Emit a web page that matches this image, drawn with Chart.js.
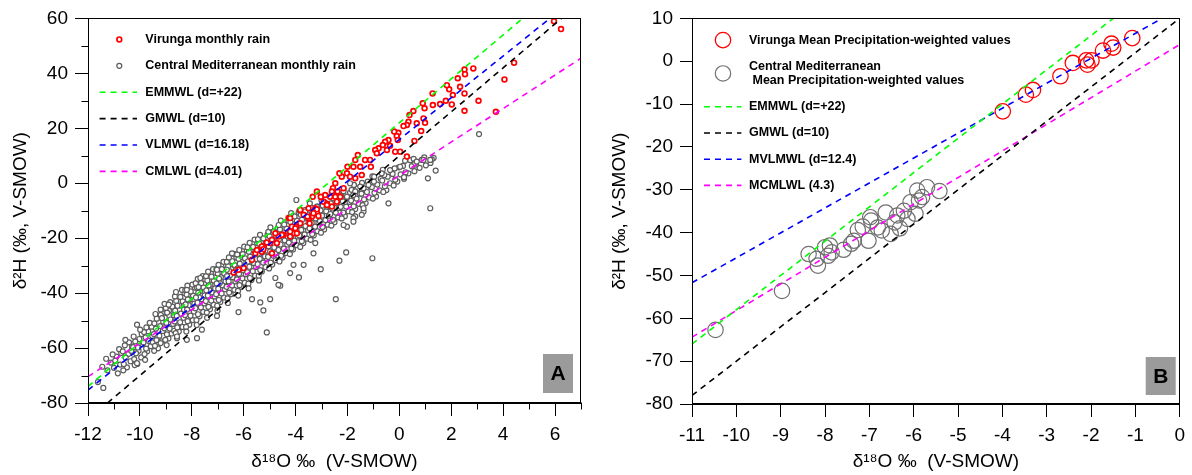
<!DOCTYPE html>
<html>
<head>
<meta charset="utf-8">
<script src="https://cdn.jsdelivr.net/npm/chart.js@4.4.1/dist/chart.umd.min.js"></script>
<style>
  body { margin: 0; background: #fff; width: 1192px; height: 475px; overflow: hidden; position: relative; }
  .panel { position: absolute; top: 0; width: 596px; height: 475px; }
  #wrapA { left: 0; }
  #wrapB { left: 596px; }
</style>
</head>
<body>
<div class="panel" id="wrapA"><canvas id="chartA" width="596" height="475"></canvas></div>
<div class="panel" id="wrapB"><canvas id="chartB" width="596" height="475"></canvas></div>
<script>
// ---- panel A data: monthly rain, [d18O, d2H] ----
const virungaMonthly = [
  [5.96,59.0],[6.23,56.1],[4.42,43.9],[2.85,41.8],[2.51,41.4],[2.53,39.7],[2.25,38.2],[2.34,35.1],[1.92,34.2],[1.83,35.7],
  [2.06,32.1],[2.51,32.7],[4.05,37.8],[3.05,30.0],[2.51,26.4],[3.72,26.0],[1.28,32.7],[0.90,29.1],[0.97,27.3],[1.29,28.5],
  [1.57,28.8],[1.79,30.0],[2.02,28.7],[0.54,26.3],[0.39,24.8],[0.35,22.4],[0.29,21.2],[0.16,20.8],[0.93,23.6],[0.99,22.0],
  [0.67,21.8],[0.84,19.0],[-0.04,18.4],[-0.20,18.8],[-0.10,17.2],[-0.42,15.7],[-0.55,15.1],[-0.64,13.9],[-0.36,13.6],[-0.06,15.7],
  [-0.16,11.5],[0.03,11.5],[-0.80,12.7],[-0.93,12.1],[-0.87,10.9],[-0.48,12.1],[0.29,9.7],[0.58,15.4],[-1.13,8.5],[-1.10,6.0],
  [-1.32,8.5],[-1.60,10.3],[-1.70,8.5],[-1.77,6.0],[-1.51,6.0],[-2.00,6.0],[-2.02,3.6],[-1.90,2.4],[-1.45,3.0],[-1.70,1.8],
  [-2.22,2.4],[-2.31,3.6],[-2.47,0.0],[-2.56,-1.8],[-2.60,-3.0],[-2.38,-3.0],[-2.15,-1.8],[-2.28,-4.9],[-2.47,-4.9],[-2.67,-4.9],
  [-2.86,-4.3],[-3.03,-4.9],[-2.92,-6.7],[-2.79,-7.5],[-2.60,-8.5],[-2.41,-6.7],[-3.18,-3.0],[-3.34,-4.9],[-3.50,-9.1],[-3.24,-9.1],
  [-3.18,-10.9],[-3.37,-12.1],[-3.50,-12.7],[-3.46,-14.6],[-3.69,-11.5],[-3.82,-9.7],[-3.98,-15.8],[-4.14,-15.8],[-4.08,-18.2],[-4.27,-12.7],
  [-4.46,-18.8],[-4.66,-19.4],[-4.78,-18.2],[-4.98,-21.8],[-5.11,-21.6],[-5.23,-23.0],[-4.91,-25.5],[-5.30,-24.9],[-5.55,-25.5],[-3.18,-9.5],
  [-3.31,-10.9],[-3.12,-11.9],[-3.54,-12.1],[-4.21,-12.7],[-3.82,-14.6],[-4.01,-16.4],[-3.95,-18.2],[-4.21,-19.4],[-4.53,-18.8],[-4.91,-20.6],
  [-4.72,-21.8],[-5.30,-23.0],[-5.24,-24.0],[-5.49,-24.3],[-5.68,-27.9],[-6.00,-30.9],[-6.20,-31.5],[-6.39,-32.5],[-4.21,-17.6],[-2.79,-7.9]
];

const medMonthly = [
  [-11.62,-72.4],[-11.45,-66.8],[-11.41,-74.5],
  [-11.25,-68.1],[-11.12,-65.3],[-11.30,-63.9],
  [-10.85,-69.2],[-10.76,-66.0],[-10.90,-63.1],[-10.72,-61.8],[-10.80,-60.4],
  [-10.50,-67.0],[-10.36,-64.8],[-10.45,-62.2],[-10.30,-59.5],[-10.42,-57.9],[-10.33,-61.0],
  [-10.10,-65.8],[-9.95,-63.4],[-10.05,-61.0],[-9.90,-58.6],[-10.02,-56.7],[-9.93,-54.9],[-10.08,-59.8],
  [-9.72,-61.2],[-9.58,-59.3],[-9.65,-57.4],[-9.52,-55.6],[-9.68,-53.9],[-9.55,-52.2],[-9.62,-50.8],[-9.50,-57.9],
  [-9.30,-60.1],[-9.18,-57.6],[-9.25,-55.5],[-9.12,-53.8],[-9.22,-52.0],[-9.10,-50.4],[-9.27,-48.9],[-9.15,-47.2],[-9.20,-46.0],
  [-8.90,-56.5],[-8.78,-54.7],[-8.85,-52.9],[-8.72,-51.2],[-8.82,-49.6],[-8.70,-48.0],[-8.88,-46.4],[-8.75,-44.9],[-8.83,-43.3],[-8.68,-53.7],
  [-8.50,-54.0],[-8.36,-52.3],[-8.45,-50.6],[-8.32,-49.0],[-8.42,-47.5],[-8.30,-46.0],[-8.48,-44.5],[-8.35,-43.0],[-8.44,-41.4],[-8.28,-40.0],[-8.38,-38.8],
  [-8.10,-51.5],[-7.96,-49.8],[-8.05,-48.2],[-7.92,-46.7],[-8.02,-45.2],[-7.90,-43.8],[-8.08,-42.3],[-7.95,-40.9],[-8.04,-39.4],[-7.88,-38.0],[-7.98,-36.9],[-8.12,-44.4],
  [-7.70,-48.4],[-7.56,-46.8],[-7.65,-45.2],[-7.52,-43.7],[-7.62,-42.2],[-7.50,-40.8],[-7.68,-39.3],[-7.55,-37.9],[-7.64,-36.4],[-7.48,-35.0],[-7.58,-33.8],[-7.72,-41.5],
  [-7.30,-45.9],[-7.16,-44.2],[-7.25,-42.7],[-7.12,-41.2],[-7.22,-39.7],[-7.10,-38.3],[-7.28,-36.9],[-7.15,-35.4],[-7.24,-34.0],[-7.08,-32.6],[-7.18,-31.3],[-7.32,-38.9],
  [-6.90,-43.2],[-6.76,-41.6],[-6.85,-40.1],[-6.72,-38.6],[-6.82,-37.1],[-6.70,-35.7],[-6.88,-34.2],[-6.75,-32.8],[-6.84,-31.3],[-6.68,-29.9],[-6.78,-28.6],[-6.92,-36.3],
  [-6.50,-40.4],[-6.36,-38.8],[-6.45,-37.2],[-6.32,-35.7],[-6.42,-34.2],[-6.30,-32.8],[-6.48,-31.3],[-6.35,-29.8],[-6.44,-28.4],[-6.28,-27.0],[-6.38,-25.7],[-6.52,-33.4],
  [-6.10,-37.8],[-5.96,-36.2],[-6.05,-34.6],[-5.92,-33.1],[-6.02,-31.6],[-5.90,-30.2],[-6.08,-28.7],[-5.95,-27.3],[-6.04,-25.8],[-5.88,-24.4],[-5.98,-23.1],[-6.12,-30.9],
  [-5.70,-35.2],[-5.56,-33.6],[-5.65,-32.0],[-5.52,-30.5],[-5.62,-29.0],[-5.50,-27.6],[-5.68,-26.1],[-5.55,-24.7],[-5.64,-23.2],[-5.48,-21.8],[-5.58,-20.5],[-5.72,-28.2],
  [-5.30,-32.1],[-5.16,-30.5],[-5.25,-28.9],[-5.12,-27.4],[-5.22,-25.9],[-5.10,-24.5],[-5.28,-23.0],[-5.15,-21.6],[-5.24,-20.1],[-5.08,-18.7],[-5.18,-26.6],
  [-4.90,-29.6],[-4.76,-28.0],[-4.85,-26.4],[-4.72,-24.9],[-4.82,-23.4],[-4.70,-22.0],[-4.88,-20.5],[-4.75,-19.1],[-4.84,-17.6],[-4.68,-16.2],[-4.78,-25.6],
  [-4.50,-27.0],[-4.36,-25.4],[-4.45,-23.8],[-4.32,-22.3],[-4.42,-20.8],[-4.30,-19.4],[-4.48,-17.9],[-4.35,-16.5],[-4.44,-15.0],[-4.28,-13.6],
  [-4.10,-24.1],[-3.96,-22.5],[-4.05,-20.9],[-3.92,-19.4],[-4.02,-17.9],[-3.90,-16.5],[-4.08,-15.0],[-3.95,-13.6],[-4.04,-12.1],[-3.88,-10.7],
  [-3.70,-21.8],[-3.56,-20.2],[-3.65,-18.6],[-3.52,-17.1],[-3.62,-15.6],[-3.50,-14.2],[-3.68,-12.7],[-3.55,-11.3],[-3.64,-9.8],
  [-3.30,-19.0],[-3.16,-17.4],[-3.25,-15.8],[-3.12,-14.3],[-3.22,-12.8],[-3.10,-11.4],[-3.28,-9.9],[-3.15,-8.5],
  [-2.90,-16.8],[-2.76,-15.1],[-2.85,-13.4],[-2.72,-11.8],[-2.82,-10.2],[-2.70,-8.6],[-2.88,-7.0],
  [-2.50,-14.2],[-2.36,-12.4],[-2.45,-10.7],[-2.32,-9.0],[-2.42,-7.3],[-2.30,-5.6],
  [-2.10,-12.0],[-1.96,-10.2],[-2.05,-8.5],[-1.92,-6.8],[-2.02,-5.1],[-1.90,-3.4],
  [-1.70,-9.4],[-1.56,-7.5],[-1.65,-5.6],[-1.52,-3.8],[-1.62,-2.0],
  [-1.30,-7.2],[-1.16,-5.2],[-1.25,-3.2],[-1.12,-1.3],[-1.22,0.6],
  [-0.90,-4.8],[-0.76,-2.6],[-0.85,-0.5],[-0.72,1.6],
  [-0.50,-2.5],[-0.36,0.0],[-0.45,2.4],[-0.32,4.6],
  [-0.08,0.6],[0.05,3.2],[-0.02,5.8],
  [0.35,3.6],[0.48,6.2],[0.42,8.4],
  [0.78,5.6],[0.86,8.5],[1.20,7.4],[1.32,9.2],
  // in-between points of the dense band
  [-11.00,-67.2],[-10.95,-64.6],[-11.05,-62.3],
  [-10.62,-65.8],[-10.55,-63.5],[-10.66,-61.2],[-10.58,-59.0],[-10.64,-68.1],
  [-10.22,-64.0],[-10.15,-61.9],[-10.26,-59.7],[-10.18,-57.6],[-10.24,-55.8],[-10.20,-66.2],
  [-9.82,-62.2],[-9.76,-60.2],[-9.86,-58.0],[-9.78,-56.1],[-9.84,-54.2],[-9.75,-52.5],[-9.80,-64.3],
  [-9.42,-59.2],[-9.36,-57.1],[-9.46,-54.9],[-9.38,-52.9],[-9.44,-51.0],[-9.35,-49.3],[-9.40,-47.6],[-9.45,-61.0],
  [-9.02,-57.0],[-8.96,-55.0],[-9.06,-52.8],[-8.98,-50.8],[-9.04,-48.9],[-8.95,-47.1],[-9.00,-45.4],[-9.05,-43.9],[-8.97,-58.9],
  [-8.62,-54.6],[-8.56,-52.5],[-8.66,-50.3],[-8.58,-48.3],[-8.64,-46.4],[-8.55,-44.6],[-8.60,-42.8],[-8.65,-41.2],[-8.57,-56.4],[-8.61,-39.6],
  [-8.22,-52.3],[-8.16,-50.2],[-8.26,-48.0],[-8.18,-46.0],[-8.24,-44.1],[-8.15,-42.3],[-8.20,-40.5],[-8.25,-38.9],[-8.17,-37.3],[-8.21,-54.0],
  [-7.82,-49.8],[-7.76,-47.7],[-7.86,-45.5],[-7.78,-43.5],[-7.84,-41.6],[-7.75,-39.8],[-7.80,-38.0],[-7.85,-36.4],[-7.77,-34.8],[-7.81,-51.6],
  [-7.42,-47.1],[-7.36,-45.0],[-7.46,-42.9],[-7.38,-40.9],[-7.44,-39.0],[-7.35,-37.2],[-7.40,-35.4],[-7.45,-33.8],[-7.37,-32.2],[-7.41,-49.0],
  [-7.02,-44.6],[-6.96,-42.5],[-7.06,-40.4],[-6.98,-38.4],[-7.04,-36.5],[-6.95,-34.7],[-7.00,-32.9],[-7.05,-31.3],[-6.97,-29.7],[-7.01,-46.4],
  [-6.62,-41.9],[-6.56,-39.8],[-6.66,-37.7],[-6.58,-35.7],[-6.64,-33.8],[-6.55,-32.0],[-6.60,-30.2],[-6.65,-28.6],[-6.57,-27.0],[-6.61,-43.6],
  [-6.22,-39.2],[-6.16,-37.1],[-6.26,-35.0],[-6.18,-33.0],[-6.24,-31.1],[-6.15,-29.3],[-6.20,-27.5],[-6.25,-25.9],[-6.17,-24.3],[-6.21,-40.9],
  [-5.82,-36.6],[-5.76,-34.5],[-5.86,-32.4],[-5.78,-30.4],[-5.84,-28.5],[-5.75,-26.7],[-5.80,-24.9],[-5.85,-23.3],[-5.77,-21.7],[-5.81,-38.3],
  [-5.42,-33.7],[-5.36,-31.6],[-5.46,-29.5],[-5.38,-27.5],[-5.44,-25.6],[-5.35,-23.8],[-5.40,-22.0],[-5.45,-20.4],[-5.37,-18.8],[-5.41,-35.4],
  [-5.02,-31.0],[-4.96,-28.9],[-5.06,-26.8],[-4.98,-24.8],[-5.04,-22.9],[-4.95,-21.1],[-5.00,-19.3],[-5.05,-17.7],[-4.97,-16.1],
  [-4.62,-28.5],[-4.56,-26.4],[-4.66,-24.3],[-4.58,-22.3],[-4.64,-20.4],[-4.55,-18.6],[-4.60,-16.8],[-4.65,-15.2],[-4.57,-13.6],
  [-4.22,-25.8],[-4.16,-23.7],[-4.26,-21.6],[-4.18,-19.6],[-4.24,-17.7],[-4.15,-15.9],[-4.20,-14.1],[-4.25,-12.5],[-4.17,-10.9],
  [-3.82,-23.2],[-3.76,-21.1],[-3.86,-19.0],[-3.78,-17.0],[-3.84,-15.1],[-3.75,-13.3],[-3.80,-11.5],[-3.85,-9.9],
  [-3.42,-20.6],[-3.36,-18.5],[-3.46,-16.4],[-3.38,-14.4],[-3.44,-12.5],[-3.35,-10.7],[-3.40,-8.9],[-3.45,-7.3],
  [-3.02,-18.0],[-2.96,-15.9],[-3.06,-13.8],[-2.98,-11.8],[-3.04,-9.9],[-2.95,-8.1],[-3.00,-6.3],
  [-2.62,-15.4],[-2.56,-13.3],[-2.66,-11.2],[-2.58,-9.2],[-2.64,-7.3],[-2.55,-5.5],
  [-2.22,-12.8],[-2.16,-10.7],[-2.26,-8.6],[-2.18,-6.6],[-2.24,-4.7],[-2.15,-2.9],
  [-1.82,-10.5],[-1.76,-8.4],[-1.86,-6.3],[-1.78,-4.3],[-1.84,-2.4],[-1.75,-0.6],
  [-1.42,-8.0],[-1.36,-5.9],[-1.46,-3.8],[-1.38,-1.8],[-1.44,0.1],
  [-1.02,-5.6],[-0.96,-3.5],[-1.06,-1.4],[-0.98,0.6],[-1.04,2.5],
  [-0.62,-3.2],[-0.56,-1.1],[-0.66,1.0],[-0.58,3.0],[-0.64,4.9],
  [-0.22,-0.8],[-0.16,1.3],[-0.26,3.4],[-0.18,5.4],
  [0.18,1.6],[0.24,4.0],[0.14,6.3],[0.22,8.2],
  [0.58,4.4],[0.64,6.8],[0.55,8.9],[1.02,6.5],[0.96,9.4],
  // scattered points off the main band
  [1.19,-9.1],[1.10,1.8],[1.40,4.6],[1.25,8.7],[0.61,7.3],[0.18,2.2],[-0.42,-7.3],[-1.38,-10.3],[-1.70,-12.1],[-2.02,-15.8],
  [-2.05,-25.2],[-1.04,-27.3],[3.07,17.9],[-2.45,-42.2],[-3.03,-31.3],[-2.31,-28.2],[-5.11,-54.3],[-5.24,-46.3],[-6.20,-46.9],[-5.68,-42.2],
  [-4.98,-42.2],[-5.36,-43.4],[-4.59,-37.3],[-3.87,-34.3],[-4.78,-34.5],[-7.03,-48.3],[-7.80,-56.4],[-7.61,-53.3],[-8.19,-57.0],[-8.57,-55.8],
  [-9.20,-58.2],[-10.11,-65.5],[-2.15,-15.2],[-1.77,-12.7],[-1.45,-11.5],[-1.38,-9.1],[-1.77,-14.0],[-3.24,-21.8],[-3.31,-25.5],[-4.08,-29.7],
  [-3.69,-29.7],[-4.66,-37.0],[-4.21,-32.7],[-6.65,-31.5],[-6.45,-25.5],[-7.03,-31.5],[-7.67,-34.5],[-8.19,-38.8],[-7.74,-37.8],[-8.89,-44.2],
  [-9.20,-47.9],[-9.15,-49.1],[-9.99,-53.3],[-10.11,-51.5],[-10.56,-57.0],[-3.97,-6.1],[-3.63,-10.3],[-3.18,-8.5],[-2.80,-8.5],[-2.41,-4.3],
  [-2.02,-4.9],[-1.70,-3.0],[-1.90,0.0],[-1.51,-1.2],[-1.19,-0.6],[-0.97,2.4],[-0.68,3.6],[-0.36,4.8],[0.03,6.0],[0.67,7.9],
  [0.93,8.5],[1.19,8.5]
];

// meteoric water lines for panel A, end points
const emmwlA = [[-12,-74],[4.75,60]];
const gmwlA = [[-11.25,-80],[6.25,60]];
const vlmwlA = [[-12,-75.3],[5.8,60]];
const cmlwlA = [[-12,-70.4],[7,45.5]];

// ---- panel B data: mean precipitation-weighted values ----
const virungaMean = [
  [-3.99,-11.7],[-3.47,-7.8],[-3.31,-6.7],[-2.69,-3.5],[-2.41,-0.4],[-2.11,0.2],
  [-2.08,-0.8],[-1.99,0.2],[-1.73,2.5],[-1.54,4.1],[-1.50,3.2],[-1.07,5.4]
];
const medMean = [
  [-10.47,-62.7],[-8.97,-53.6],[-8.37,-45.0],[-8.16,-47.7],[-8.19,-46.1],[-8.00,-43.4],[-7.89,-43.0],[-7.93,-45.4],
  [-7.85,-44.6],[-7.58,-44.0],[-7.41,-42.6],[-7.26,-39.4],[-7.35,-41.9],[-7.15,-38.6],[-7.02,-41.9],[-6.96,-37.2],
  [-6.98,-36.4],[-6.81,-38.8],[-6.72,-39.5],[-6.63,-35.3],[-6.52,-40.3],[-6.43,-37.6],[-6.31,-39.0],[-6.37,-36.0],
  [-6.22,-34.9],[-6.14,-36.8],[-6.07,-32.9],[-5.96,-35.6],[-5.88,-32.5],[-5.92,-30.2],[-5.70,-29.4],[-5.42,-30.3],[-5.81,-31.7]
];
const emmwlB = [[-11,-66],[-1.5,10]];
const gmwlB = [[-11,-78],[0,10]];
const mvlmwlB = [[-11,-51.7],[-0.4,10]];
const mcmlwlB = [[-11,-64.4],[0,3.9]];

// ---- axes ----
const xTicksA = [-12, 7, 2];      // min, max, step
const yTicksA = [-80, 60, 20];
const xMinorA = [-11, -9, -7, -5, -3, -1, 1, 3, 5, 7];
const yMinorA = [-70, -50, -30, -10, 10, 30, 50];
const xTicksB = [-11, 0, 1];
const yTicksB = [-80, 10, 10];

const FONT = '"Liberation Sans", Arial, sans-serif';
Chart.defaults.font.family = FONT;
Chart.defaults.color = '#000';

const toXY = arr => arr.map(p => ({ x: p[0], y: p[1] }));

function pointSet(label, data, color, fill, radius, width, order) {
  return {
    label, data: toXY(data), showLine: false, order,
    borderColor: color, backgroundColor: fill,
    pointBackgroundColor: fill,
    pointRadius: radius, pointBorderWidth: width, pointHoverRadius: radius
  };
}
function lineSet(label, data, color) {
  return {
    label, data: toXY(data), showLine: true, order: 0,
    borderColor: color, borderWidth: 1.6, borderDash: [6, 5],
    pointRadius: 0, fill: false
  };
}

// outer frame (top/right) + minor ticks
const framePlugin = {
  id: 'frame',
  afterDraw(chart, args, opts) {
    const { ctx, chartArea: a } = chart;
    ctx.save();
    ctx.strokeStyle = '#000';
    ctx.lineWidth = 1;
    const L = Math.round(a.left) + 0.5, R = Math.round(a.right) - 0.5;
    const T = Math.round(a.top) + 0.5, B = Math.round(a.bottom) - 0.5;
    ctx.strokeRect(L, T, R - L, B - T);
    const sx = chart.scales.x, sy = chart.scales.y;
    ctx.beginPath();
    (opts.minorX || []).forEach(v => {
      const px = Math.round(sx.getPixelForValue(v)) + 0.5;
      ctx.moveTo(px, B); ctx.lineTo(px, B + opts.len);
    });
    (opts.minorY || []).forEach(v => {
      const py = Math.round(sy.getPixelForValue(v)) + 0.5;
      ctx.moveTo(L, py); ctx.lineTo(L - opts.len, py);
    });
    ctx.stroke();
    ctx.restore();
  }
};

// legend inside plot area
const insideLegend = {
  id: 'insideLegend',
  afterDraw(chart, args, o) {
    const { ctx, chartArea: a } = chart;
    ctx.save();
    ctx.font = 'bold 12.5px ' + FONT;
    ctx.textBaseline = 'middle';
    let y = a.top + o.top;
    chart.data.datasets.forEach(ds => {
      const lines = ds.label.split('\n');
      const cy = y + (lines.length - 1) * o.lineH / 2;
      ctx.strokeStyle = ds.borderColor;
      if (ds.showLine) {
        ctx.lineWidth = ds.borderWidth;
        ctx.setLineDash(ds.borderDash);
        ctx.beginPath();
        ctx.moveTo(a.left + o.lineStart, cy);
        ctx.lineTo(a.left + o.lineEnd, cy);
        ctx.stroke();
        ctx.setLineDash([]);
      } else {
        ctx.lineWidth = ds.pointBorderWidth;
        ctx.beginPath();
        ctx.arc(a.left + o.markX, cy, ds.pointRadius, 0, Math.PI * 2);
        ctx.stroke();
      }
      ctx.fillStyle = '#000';
      lines.forEach((t, i) => ctx.fillText(t, a.left + o.textX, y + i * o.lineH));
      y += o.rowH + (lines.length - 1) * o.lineH;
    });
    ctx.restore();
  }
};

// grey panel letter box
const panelTag = {
  id: 'panelTag',
  afterDraw(chart, args, o) {
    const { ctx, chartArea: a } = chart;
    const x = a.right - o.right - o.w, y = a.bottom - o.bottom - o.h;
    ctx.save();
    ctx.fillStyle = '#9b9b9b';
    ctx.fillRect(x, y, o.w, o.h);
    ctx.fillStyle = '#000';
    ctx.font = 'bold 21px ' + FONT;
    ctx.textAlign = 'center';
    ctx.textBaseline = 'middle';
    ctx.fillText(o.text, x + o.w / 2, y + o.h / 2 + 1);
    ctx.restore();
  }
};

function axis(t, title, size, tickLen, titlePad) {
  return {
    type: 'linear', min: t[0], max: t[1],
    ticks: { stepSize: t[2], includeBounds: false, font: { size: 19 }, color: '#000', padding: 7 },
    grid: { drawOnChartArea: false, drawTicks: true, tickLength: tickLen, color: '#000', lineWidth: 1 },
    border: { display: true, color: '#000', width: 1 },
    title: { display: true, text: title, font: { size: 19 }, color: '#000', padding: titlePad },
    afterFit(s) { if (s.isHorizontal()) s.height = size; else s.width = size; }
  };
}

const xTitle = 'δ\u00b9\u2078O \u2030  (V-SMOW)';
const yTitle = 'δ\u00b2H (\u2030, V-SMOW)';

new Chart(document.getElementById('chartA'), {
  type: 'scatter',
  data: {
    datasets: [
      pointSet('Virunga monthly rain', virungaMonthly, '#ff0000', '#ffffff', 2.4, 1.7, 1),
      pointSet('Central Mediterranean monthly rain', medMonthly, '#5c5c5c', '#ffffff', 2.5, 1.2, 2),
      lineSet('EMMWL (d=+22)', emmwlA, '#00ff00'),
      lineSet('GMWL (d=10)', gmwlA, '#000000'),
      lineSet('VLMWL (d=16.18)', vlmwlA, '#0000ff'),
      lineSet('CMLWL (d=4.01)', cmlwlA, '#ff00ff')
    ]
  },
  options: {
    responsive: false, animation: false, events: [],
    layout: { padding: { left: 0, right: 15, top: 18, bottom: 0 } },
    scales: {
      x: axis(xTicksA, xTitle, 72, 13, { top: 0, bottom: 2 }),
      y: axis(yTicksA, yTitle, 88, 13, { top: 9, bottom: 0 })
    },
    plugins: {
      legend: { display: false }, tooltip: { enabled: false },
      frame: { minorX: xMinorA, minorY: yMinorA, len: 7 },
      insideLegend: { top: 21, rowH: 26.4, lineH: 14.3, markX: 31.3, lineStart: 11.6, lineEnd: 49, textX: 57.3 },
      panelTag: { text: 'A', w: 30, h: 39, right: 8, bottom: 10 }
    }
  },
  plugins: [framePlugin, insideLegend, panelTag]
});

new Chart(document.getElementById('chartB'), {
  type: 'scatter',
  data: {
    datasets: [
      pointSet('Virunga Mean Precipitation-weighted values', virungaMean, '#ff0000', 'rgba(255,255,255,0)', 7.7, 1.3, 1),
      pointSet('Central Mediterranean\n Mean Precipitation-weighted values', medMean, '#707070', 'rgba(255,255,255,0)', 7.7, 1.2, 2),
      lineSet('EMMWL (d=+22)', emmwlB, '#00ff00'),
      lineSet('GMWL (d=10)', gmwlB, '#000000'),
      lineSet('MVLMWL (d=12.4)', mvlmwlB, '#0000ff'),
      lineSet('MCMLWL (4.3)', mcmlwlB, '#ff00ff')
    ]
  },
  options: {
    responsive: false, animation: false, events: [],
    layout: { padding: { left: 0, right: 8, top: 18, bottom: 0 } },
    scales: {
      x: axis(xTicksB, xTitle, 71, 13, { top: 0, bottom: 2 }),
      y: axis(yTicksB, yTitle, 96, 12, { top: 12, bottom: 0 })
    },
    plugins: {
      legend: { display: false }, tooltip: { enabled: false },
      frame: { minorX: [], minorY: [], len: 7 },
      insideLegend: { top: 21.7, rowH: 26.2, lineH: 14.3, markX: 31, lineStart: 12, lineEnd: 49.4, textX: 57 },
      panelTag: { text: 'B', w: 30, h: 38, right: 4, bottom: 9 }
    }
  },
  plugins: [framePlugin, insideLegend, panelTag]
});
</script>
</body>
</html>
